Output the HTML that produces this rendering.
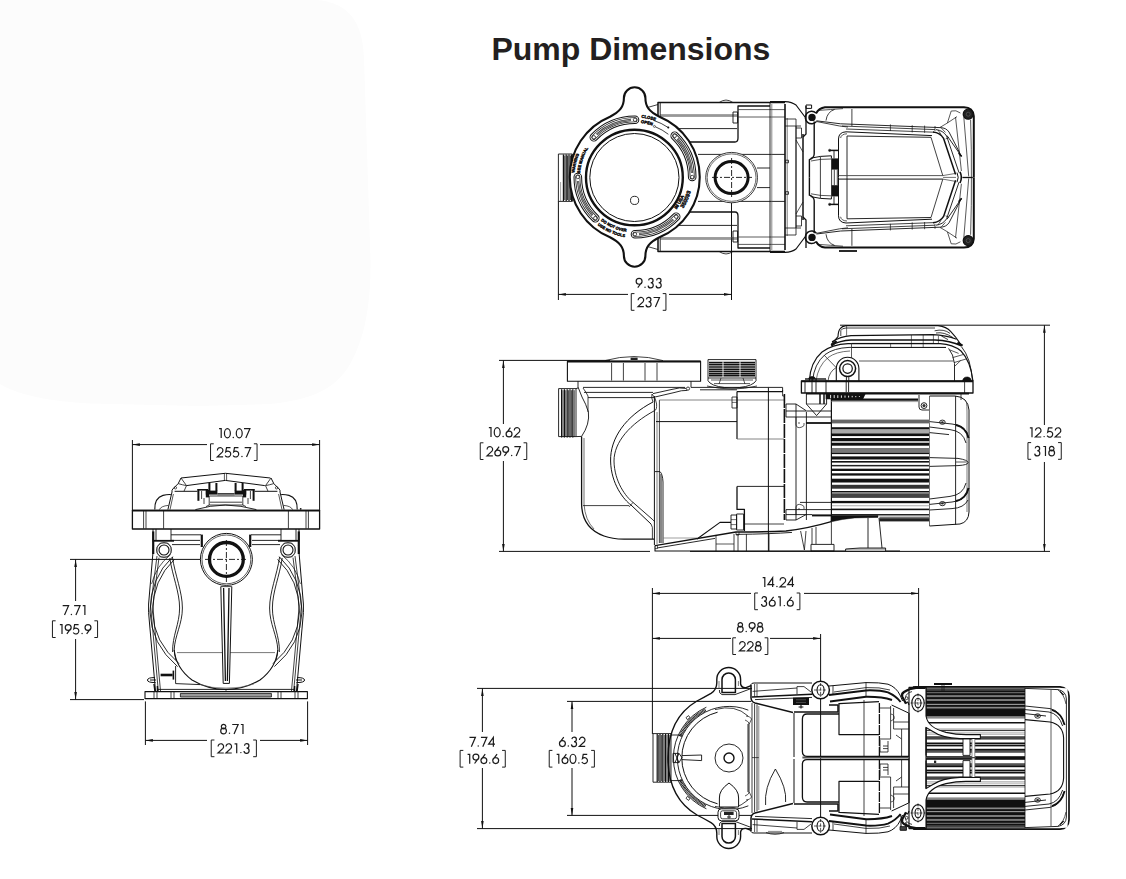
<!DOCTYPE html>
<html><head><meta charset="utf-8"><title>Pump Dimensions</title>
<style>
html,body{margin:0;padding:0;background:#fff;}
body{width:1126px;height:879px;overflow:hidden;position:relative;font-family:"Liberation Sans",sans-serif;}
#title{position:absolute;left:491.5px;top:30.5px;font-size:32px;font-weight:bold;color:#231f20;letter-spacing:-0.03px;line-height:37px;white-space:nowrap;}
svg{position:absolute;left:0;top:0;}
</style></head><body>
<svg width="1126" height="879" viewBox="0 0 1126 879">

<path d="M0 0 H316 C350 2 363 24 364 58 L370.5 260 C371 300 366 338 349 366 C334 390 310 400 270 404 L199 406 L90 403.6 C50 401 20 396 0 384 Z" fill="#fcfcfc"/>
<g id="dims">
<line x1="558.4" y1="201" x2="558.4" y2="300" stroke="#111" stroke-width="1.0" />
<line x1="731.5" y1="190" x2="731.5" y2="300" stroke="#111" stroke-width="1.0" />
<line x1="558.4" y1="294.4" x2="628" y2="294.4" stroke="#111" stroke-width="1.0" />
<line x1="669" y1="294.4" x2="731.5" y2="294.4" stroke="#111" stroke-width="1.0" />
<polygon fill="#111" points="558.4,294.4 565.9,293.1 565.9,295.7"/>
<polygon fill="#111" points="731.5,294.4 724.0,293.1 724.0,295.7"/>
<g fill="none" stroke="#1c1c1c" stroke-width="1.25" stroke-linecap="butt" stroke-linejoin="miter"><g transform="translate(635.71 278.20) scale(0.97)"><path d="M2.1 9.8 L5.9 4.7 M6.55 3.2 A3.05 3.05 0 1 1 0.45 3.2 A3.05 3.05 0 1 1 6.55 3.2"/></g><g transform="translate(643.76 278.20) scale(0.97)"><circle cx="1.3" cy="9.3" r="0.75" fill="#222" stroke="none"/></g><g transform="translate(647.54 278.20) scale(0.97)"><path d="M1.1 2.2 A2.3 2.3 0 1 1 3.3 4.7 A2.65 2.65 0 1 1 0.6 7.6"/></g><g transform="translate(655.50 278.20) scale(0.97)"><path d="M1.1 2.2 A2.3 2.3 0 1 1 3.3 4.7 A2.65 2.65 0 1 1 0.6 7.6"/></g></g>
<g fill="none" stroke="#1c1c1c" stroke-width="1.25" stroke-linecap="butt" stroke-linejoin="miter"><g transform="translate(637.45 297.20) scale(0.97)"><path d="M0.7 3.1 A2.85 2.85 0 1 1 5.7 4.9 L0.6 9.7 H6.6"/></g><g transform="translate(645.40 297.20) scale(0.97)"><path d="M1.1 2.2 A2.3 2.3 0 1 1 3.3 4.7 A2.65 2.65 0 1 1 0.6 7.6"/></g><g transform="translate(653.16 297.20) scale(0.97)"><path d="M0.4 0.3 H6.5 L2.3 10"/></g><path d="M634.46 293.60 H631.26 V310.30 H634.46" stroke-width="1"/><path d="M662.74 293.60 H665.94 V310.30 H662.74" stroke-width="1"/></g>
<line x1="499" y1="360.4" x2="610" y2="360.4" stroke="#111" stroke-width="1.0" />
<line x1="499" y1="551.4" x2="650" y2="551.4" stroke="#111" stroke-width="1.0" />
<line x1="503.4" y1="360.4" x2="503.4" y2="424" stroke="#111" stroke-width="1.0" />
<line x1="503.4" y1="461" x2="503.4" y2="551.4" stroke="#111" stroke-width="1.0" />
<polygon fill="#111" points="503.4,360.4 502.1,367.9 504.7,367.9"/>
<polygon fill="#111" points="503.4,551.4 502.1,543.9 504.7,543.9"/>
<g fill="none" stroke="#1c1c1c" stroke-width="1.25" stroke-linecap="butt" stroke-linejoin="miter"><g transform="translate(487.90 427.40) scale(0.97)"><path d="M1.0 0.3 H3.2 V10"/></g><g transform="translate(493.81 427.40) scale(0.97)"><ellipse cx="3.5" cy="5" rx="3.05" ry="4.75"/></g><g transform="translate(501.87 427.40) scale(0.97)"><circle cx="1.3" cy="9.3" r="0.75" fill="#222" stroke="none"/></g><g transform="translate(505.65 427.40) scale(0.97)"><path d="M4.9 0.2 L1.1 5.3 M6.55 6.8 A3.05 3.05 0 1 1 0.45 6.8 A3.05 3.05 0 1 1 6.55 6.8"/></g><g transform="translate(513.60 427.40) scale(0.97)"><path d="M0.7 3.1 A2.85 2.85 0 1 1 5.7 4.9 L0.6 9.7 H6.6"/></g></g>
<g fill="none" stroke="#1c1c1c" stroke-width="1.25" stroke-linecap="butt" stroke-linejoin="miter"><g transform="translate(486.43 446.40) scale(0.97)"><path d="M0.7 3.1 A2.85 2.85 0 1 1 5.7 4.9 L0.6 9.7 H6.6"/></g><g transform="translate(494.38 446.40) scale(0.97)"><path d="M4.9 0.2 L1.1 5.3 M6.55 6.8 A3.05 3.05 0 1 1 0.45 6.8 A3.05 3.05 0 1 1 6.55 6.8"/></g><g transform="translate(502.34 446.40) scale(0.97)"><path d="M2.1 9.8 L5.9 4.7 M6.55 3.2 A3.05 3.05 0 1 1 0.45 3.2 A3.05 3.05 0 1 1 6.55 3.2"/></g><g transform="translate(510.39 446.40) scale(0.97)"><circle cx="1.3" cy="9.3" r="0.75" fill="#222" stroke="none"/></g><g transform="translate(513.98 446.40) scale(0.97)"><path d="M0.4 0.3 H6.5 L2.3 10"/></g><path d="M483.45 442.80 H480.25 V459.50 H483.45" stroke-width="1"/><path d="M523.55 442.80 H526.75 V459.50 H523.55" stroke-width="1"/></g>
<line x1="840" y1="325.2" x2="1050" y2="325.2" stroke="#111" stroke-width="1.0" />
<line x1="690" y1="551.4" x2="1050" y2="551.4" stroke="#111" stroke-width="1.0" />
<line x1="1044.4" y1="325.2" x2="1044.4" y2="425" stroke="#111" stroke-width="1.0" />
<line x1="1044.4" y1="462" x2="1044.4" y2="551.4" stroke="#111" stroke-width="1.0" />
<polygon fill="#111" points="1044.4,325.2 1043.1,332.7 1045.7,332.7"/>
<polygon fill="#111" points="1044.4,551.4 1043.1,543.9 1045.7,543.9"/>
<g fill="none" stroke="#1c1c1c" stroke-width="1.25" stroke-linecap="butt" stroke-linejoin="miter"><g transform="translate(1028.90 427.60) scale(0.97)"><path d="M1.0 0.3 H3.2 V10"/></g><g transform="translate(1034.82 427.60) scale(0.97)"><path d="M0.7 3.1 A2.85 2.85 0 1 1 5.7 4.9 L0.6 9.7 H6.6"/></g><g transform="translate(1042.87 427.60) scale(0.97)"><circle cx="1.3" cy="9.3" r="0.75" fill="#222" stroke="none"/></g><g transform="translate(1046.65 427.60) scale(0.97)"><path d="M6 0.3 H1.9 L1.1 4.6 A3.05 3.05 0 1 1 0.5 8.3"/></g><g transform="translate(1054.60 427.60) scale(0.97)"><path d="M0.7 3.1 A2.85 2.85 0 1 1 5.7 4.9 L0.6 9.7 H6.6"/></g></g>
<g fill="none" stroke="#1c1c1c" stroke-width="1.25" stroke-linecap="butt" stroke-linejoin="miter"><g transform="translate(1034.12 446.20) scale(0.97)"><path d="M1.1 2.2 A2.3 2.3 0 1 1 3.3 4.7 A2.65 2.65 0 1 1 0.6 7.6"/></g><g transform="translate(1042.37 446.20) scale(0.97)"><path d="M1.0 0.3 H3.2 V10"/></g><g transform="translate(1048.29 446.20) scale(0.97)"><path d="M5.8 2.5 A2.3 2.3 0 1 1 1.2 2.5 A2.3 2.3 0 1 1 5.8 2.5 M6.45 7.1 A2.95 2.95 0 1 1 0.55 7.1 A2.95 2.95 0 1 1 6.45 7.1"/></g><path d="M1031.14 442.60 H1027.94 V459.30 H1031.14" stroke-width="1"/><path d="M1058.06 442.60 H1061.26 V459.30 H1058.06" stroke-width="1"/></g>
<line x1="132.4" y1="440" x2="132.4" y2="511" stroke="#111" stroke-width="1.0" />
<line x1="319.6" y1="440" x2="319.6" y2="511" stroke="#111" stroke-width="1.0" />
<line x1="132.4" y1="444.6" x2="207" y2="444.6" stroke="#111" stroke-width="1.0" />
<line x1="260" y1="444.6" x2="319.6" y2="444.6" stroke="#111" stroke-width="1.0" />
<polygon fill="#111" points="132.4,444.6 139.9,443.3 139.9,445.9"/>
<polygon fill="#111" points="319.6,444.6 312.1,443.3 312.1,445.9"/>
<g fill="none" stroke="#1c1c1c" stroke-width="1.25" stroke-linecap="butt" stroke-linejoin="miter"><g transform="translate(218.09 428.40) scale(0.97)"><path d="M1.0 0.3 H3.2 V10"/></g><g transform="translate(224.01 428.40) scale(0.97)"><ellipse cx="3.5" cy="5" rx="3.05" ry="4.75"/></g><g transform="translate(232.06 428.40) scale(0.97)"><circle cx="1.3" cy="9.3" r="0.75" fill="#222" stroke="none"/></g><g transform="translate(235.84 428.40) scale(0.97)"><ellipse cx="3.5" cy="5" rx="3.05" ry="4.75"/></g><g transform="translate(243.60 428.40) scale(0.97)"><path d="M0.4 0.3 H6.5 L2.3 10"/></g></g>
<g fill="none" stroke="#1c1c1c" stroke-width="1.25" stroke-linecap="butt" stroke-linejoin="miter"><g transform="translate(216.73 447.40) scale(0.97)"><path d="M0.7 3.1 A2.85 2.85 0 1 1 5.7 4.9 L0.6 9.7 H6.6"/></g><g transform="translate(224.68 447.40) scale(0.97)"><path d="M6 0.3 H1.9 L1.1 4.6 A3.05 3.05 0 1 1 0.5 8.3"/></g><g transform="translate(232.64 447.40) scale(0.97)"><path d="M6 0.3 H1.9 L1.1 4.6 A3.05 3.05 0 1 1 0.5 8.3"/></g><g transform="translate(240.69 447.40) scale(0.97)"><circle cx="1.3" cy="9.3" r="0.75" fill="#222" stroke="none"/></g><g transform="translate(244.28 447.40) scale(0.97)"><path d="M0.4 0.3 H6.5 L2.3 10"/></g><path d="M213.75 443.80 H210.55 V460.50 H213.75" stroke-width="1"/><path d="M253.85 443.80 H257.05 V460.50 H253.85" stroke-width="1"/></g>
<line x1="145.4" y1="701.4" x2="145.4" y2="745" stroke="#111" stroke-width="1.0" />
<line x1="307.6" y1="701.4" x2="307.6" y2="745" stroke="#111" stroke-width="1.0" />
<line x1="145.4" y1="740.4" x2="207" y2="740.4" stroke="#111" stroke-width="1.0" />
<line x1="260" y1="740.4" x2="307.6" y2="740.4" stroke="#111" stroke-width="1.0" />
<polygon fill="#111" points="145.4,740.4 152.9,739.1 152.9,741.7"/>
<polygon fill="#111" points="307.6,740.4 300.1,739.1 300.1,741.7"/>
<g fill="none" stroke="#1c1c1c" stroke-width="1.25" stroke-linecap="butt" stroke-linejoin="miter"><g transform="translate(220.18 724.20) scale(0.97)"><path d="M5.8 2.5 A2.3 2.3 0 1 1 1.2 2.5 A2.3 2.3 0 1 1 5.8 2.5 M6.45 7.1 A2.95 2.95 0 1 1 0.55 7.1 A2.95 2.95 0 1 1 6.45 7.1"/></g><g transform="translate(228.23 724.20) scale(0.97)"><circle cx="1.3" cy="9.3" r="0.75" fill="#222" stroke="none"/></g><g transform="translate(231.82 724.20) scale(0.97)"><path d="M0.4 0.3 H6.5 L2.3 10"/></g><g transform="translate(239.87 724.20) scale(0.97)"><path d="M1.0 0.3 H3.2 V10"/></g></g>
<g fill="none" stroke="#1c1c1c" stroke-width="1.25" stroke-linecap="butt" stroke-linejoin="miter"><g transform="translate(217.41 743.60) scale(0.97)"><path d="M0.7 3.1 A2.85 2.85 0 1 1 5.7 4.9 L0.6 9.7 H6.6"/></g><g transform="translate(225.36 743.60) scale(0.97)"><path d="M0.7 3.1 A2.85 2.85 0 1 1 5.7 4.9 L0.6 9.7 H6.6"/></g><g transform="translate(233.61 743.60) scale(0.97)"><path d="M1.0 0.3 H3.2 V10"/></g><g transform="translate(239.62 743.60) scale(0.97)"><circle cx="1.3" cy="9.3" r="0.75" fill="#222" stroke="none"/></g><g transform="translate(243.40 743.60) scale(0.97)"><path d="M1.1 2.2 A2.3 2.3 0 1 1 3.3 4.7 A2.65 2.65 0 1 1 0.6 7.6"/></g><path d="M214.43 740.00 H211.23 V756.70 H214.43" stroke-width="1"/><path d="M253.18 740.00 H256.38 V756.70 H253.18" stroke-width="1"/></g>
<line x1="70" y1="559.4" x2="205" y2="559.4" stroke="#111" stroke-width="1.0" />
<line x1="70" y1="699.6" x2="144" y2="699.6" stroke="#111" stroke-width="1.0" />
<line x1="75.6" y1="559.4" x2="75.6" y2="601" stroke="#111" stroke-width="1.0" />
<line x1="75.6" y1="639" x2="75.6" y2="699.6" stroke="#111" stroke-width="1.0" />
<polygon fill="#111" points="75.6,559.4 74.3,566.9 76.9,566.9"/>
<polygon fill="#111" points="75.6,699.6 74.3,692.1 76.9,692.1"/>
<g fill="none" stroke="#1c1c1c" stroke-width="1.25" stroke-linecap="butt" stroke-linejoin="miter"><g transform="translate(62.28 605.40) scale(0.97)"><path d="M0.4 0.3 H6.5 L2.3 10"/></g><g transform="translate(70.14 605.40) scale(0.97)"><circle cx="1.3" cy="9.3" r="0.75" fill="#222" stroke="none"/></g><g transform="translate(73.72 605.40) scale(0.97)"><path d="M0.4 0.3 H6.5 L2.3 10"/></g><g transform="translate(81.78 605.40) scale(0.97)"><path d="M1.0 0.3 H3.2 V10"/></g></g>
<g fill="none" stroke="#1c1c1c" stroke-width="1.25" stroke-linecap="butt" stroke-linejoin="miter"><g transform="translate(58.90 624.40) scale(0.97)"><path d="M1.0 0.3 H3.2 V10"/></g><g transform="translate(64.81 624.40) scale(0.97)"><path d="M2.1 9.8 L5.9 4.7 M6.55 3.2 A3.05 3.05 0 1 1 0.45 3.2 A3.05 3.05 0 1 1 6.55 3.2"/></g><g transform="translate(72.77 624.40) scale(0.97)"><path d="M6 0.3 H1.9 L1.1 4.6 A3.05 3.05 0 1 1 0.5 8.3"/></g><g transform="translate(80.82 624.40) scale(0.97)"><circle cx="1.3" cy="9.3" r="0.75" fill="#222" stroke="none"/></g><g transform="translate(84.60 624.40) scale(0.97)"><path d="M2.1 9.8 L5.9 4.7 M6.55 3.2 A3.05 3.05 0 1 1 0.45 3.2 A3.05 3.05 0 1 1 6.55 3.2"/></g><path d="M55.63 620.80 H52.43 V637.50 H55.63" stroke-width="1"/><path d="M94.37 620.80 H97.57 V637.50 H94.37" stroke-width="1"/></g>
<line x1="652.4" y1="588" x2="652.4" y2="734" stroke="#111" stroke-width="1.0" />
<line x1="918.6" y1="588" x2="918.6" y2="694" stroke="#111" stroke-width="1.0" />
<line x1="652.4" y1="593.4" x2="751" y2="593.4" stroke="#111" stroke-width="1.0" />
<line x1="804" y1="593.4" x2="918.6" y2="593.4" stroke="#111" stroke-width="1.0" />
<polygon fill="#111" points="652.4,593.4 659.9,592.1 659.9,594.7"/>
<polygon fill="#111" points="918.6,593.4 911.1,592.1 911.1,594.7"/>
<g fill="none" stroke="#1c1c1c" stroke-width="1.25" stroke-linecap="butt" stroke-linejoin="miter"><g transform="translate(761.70 577.40) scale(0.97)"><path d="M1.0 0.3 H3.2 V10"/></g><g transform="translate(767.61 577.40) scale(0.97)"><path d="M5.2 10 V0.4 L0.3 7.4 H6.9"/></g><g transform="translate(775.67 577.40) scale(0.97)"><circle cx="1.3" cy="9.3" r="0.75" fill="#222" stroke="none"/></g><g transform="translate(779.45 577.40) scale(0.97)"><path d="M0.7 3.1 A2.85 2.85 0 1 1 5.7 4.9 L0.6 9.7 H6.6"/></g><g transform="translate(787.40 577.40) scale(0.97)"><path d="M5.2 10 V0.4 L0.3 7.4 H6.9"/></g></g>
<g fill="none" stroke="#1c1c1c" stroke-width="1.25" stroke-linecap="butt" stroke-linejoin="miter"><g transform="translate(760.91 596.60) scale(0.97)"><path d="M1.1 2.2 A2.3 2.3 0 1 1 3.3 4.7 A2.65 2.65 0 1 1 0.6 7.6"/></g><g transform="translate(768.86 596.60) scale(0.97)"><path d="M4.9 0.2 L1.1 5.3 M6.55 6.8 A3.05 3.05 0 1 1 0.45 6.8 A3.05 3.05 0 1 1 6.55 6.8"/></g><g transform="translate(777.11 596.60) scale(0.97)"><path d="M1.0 0.3 H3.2 V10"/></g><g transform="translate(783.12 596.60) scale(0.97)"><circle cx="1.3" cy="9.3" r="0.75" fill="#222" stroke="none"/></g><g transform="translate(786.90 596.60) scale(0.97)"><path d="M4.9 0.2 L1.1 5.3 M6.55 6.8 A3.05 3.05 0 1 1 0.45 6.8 A3.05 3.05 0 1 1 6.55 6.8"/></g><path d="M757.92 593.00 H754.72 V609.70 H757.92" stroke-width="1"/><path d="M796.67 593.00 H799.88 V609.70 H796.67" stroke-width="1"/></g>
<line x1="820.6" y1="634" x2="820.6" y2="828" stroke="#111" stroke-width="1.0" />
<line x1="652.4" y1="638.4" x2="731" y2="638.4" stroke="#111" stroke-width="1.0" />
<line x1="770" y1="638.4" x2="820.6" y2="638.4" stroke="#111" stroke-width="1.0" />
<polygon fill="#111" points="652.4,638.4 659.9,637.1 659.9,639.7"/>
<polygon fill="#111" points="820.6,638.4 813.1,637.1 813.1,639.7"/>
<g fill="none" stroke="#1c1c1c" stroke-width="1.25" stroke-linecap="butt" stroke-linejoin="miter"><g transform="translate(736.91 622.40) scale(0.97)"><path d="M5.8 2.5 A2.3 2.3 0 1 1 1.2 2.5 A2.3 2.3 0 1 1 5.8 2.5 M6.45 7.1 A2.95 2.95 0 1 1 0.55 7.1 A2.95 2.95 0 1 1 6.45 7.1"/></g><g transform="translate(744.96 622.40) scale(0.97)"><circle cx="1.3" cy="9.3" r="0.75" fill="#222" stroke="none"/></g><g transform="translate(748.75 622.40) scale(0.97)"><path d="M2.1 9.8 L5.9 4.7 M6.55 3.2 A3.05 3.05 0 1 1 0.45 3.2 A3.05 3.05 0 1 1 6.55 3.2"/></g><g transform="translate(756.70 622.40) scale(0.97)"><path d="M5.8 2.5 A2.3 2.3 0 1 1 1.2 2.5 A2.3 2.3 0 1 1 5.8 2.5 M6.45 7.1 A2.95 2.95 0 1 1 0.55 7.1 A2.95 2.95 0 1 1 6.45 7.1"/></g></g>
<g fill="none" stroke="#1c1c1c" stroke-width="1.25" stroke-linecap="butt" stroke-linejoin="miter"><g transform="translate(738.95 641.40) scale(0.97)"><path d="M0.7 3.1 A2.85 2.85 0 1 1 5.7 4.9 L0.6 9.7 H6.6"/></g><g transform="translate(746.90 641.40) scale(0.97)"><path d="M0.7 3.1 A2.85 2.85 0 1 1 5.7 4.9 L0.6 9.7 H6.6"/></g><g transform="translate(754.86 641.40) scale(0.97)"><path d="M5.8 2.5 A2.3 2.3 0 1 1 1.2 2.5 A2.3 2.3 0 1 1 5.8 2.5 M6.45 7.1 A2.95 2.95 0 1 1 0.55 7.1 A2.95 2.95 0 1 1 6.45 7.1"/></g><path d="M735.97 637.80 H732.77 V654.50 H735.97" stroke-width="1"/><path d="M764.63 637.80 H767.83 V654.50 H764.63" stroke-width="1"/></g>
<line x1="477" y1="688.4" x2="752" y2="688.4" stroke="#111" stroke-width="1.0" />
<line x1="477" y1="828.6" x2="752" y2="828.6" stroke="#111" stroke-width="1.0" />
<line x1="482.4" y1="688.4" x2="482.4" y2="732" stroke="#111" stroke-width="1.0" />
<line x1="482.4" y1="768" x2="482.4" y2="828.6" stroke="#111" stroke-width="1.0" />
<polygon fill="#111" points="482.4,688.4 481.1,695.9 483.7,695.9"/>
<polygon fill="#111" points="482.4,828.6 481.1,821.1 483.7,821.1"/>
<g fill="none" stroke="#1c1c1c" stroke-width="1.25" stroke-linecap="butt" stroke-linejoin="miter"><g transform="translate(469.10 737.00) scale(0.97)"><path d="M0.4 0.3 H6.5 L2.3 10"/></g><g transform="translate(476.96 737.00) scale(0.97)"><circle cx="1.3" cy="9.3" r="0.75" fill="#222" stroke="none"/></g><g transform="translate(480.55 737.00) scale(0.97)"><path d="M0.4 0.3 H6.5 L2.3 10"/></g><g transform="translate(488.31 737.00) scale(0.97)"><path d="M5.2 10 V0.4 L0.3 7.4 H6.9"/></g></g>
<g fill="none" stroke="#1c1c1c" stroke-width="1.25" stroke-linecap="butt" stroke-linejoin="miter"><g transform="translate(466.60 754.00) scale(0.97)"><path d="M1.0 0.3 H3.2 V10"/></g><g transform="translate(472.51 754.00) scale(0.97)"><path d="M2.1 9.8 L5.9 4.7 M6.55 3.2 A3.05 3.05 0 1 1 0.45 3.2 A3.05 3.05 0 1 1 6.55 3.2"/></g><g transform="translate(480.47 754.00) scale(0.97)"><path d="M4.9 0.2 L1.1 5.3 M6.55 6.8 A3.05 3.05 0 1 1 0.45 6.8 A3.05 3.05 0 1 1 6.55 6.8"/></g><g transform="translate(488.52 754.00) scale(0.97)"><circle cx="1.3" cy="9.3" r="0.75" fill="#222" stroke="none"/></g><g transform="translate(492.30 754.00) scale(0.97)"><path d="M4.9 0.2 L1.1 5.3 M6.55 6.8 A3.05 3.05 0 1 1 0.45 6.8 A3.05 3.05 0 1 1 6.55 6.8"/></g><path d="M463.32 750.40 H460.12 V767.10 H463.32" stroke-width="1"/><path d="M502.08 750.40 H505.28 V767.10 H502.08" stroke-width="1"/></g>
<line x1="567" y1="701.4" x2="751" y2="701.4" stroke="#111" stroke-width="1.0" />
<line x1="567" y1="815.4" x2="751" y2="815.4" stroke="#111" stroke-width="1.0" />
<line x1="572" y1="701.4" x2="572" y2="732" stroke="#111" stroke-width="1.0" />
<line x1="572" y1="768" x2="572" y2="815.4" stroke="#111" stroke-width="1.0" />
<polygon fill="#111" points="572.0,701.4 570.7,708.9 573.3,708.9"/>
<polygon fill="#111" points="572.0,815.4 570.7,807.9 573.3,807.9"/>
<g fill="none" stroke="#1c1c1c" stroke-width="1.25" stroke-linecap="butt" stroke-linejoin="miter"><g transform="translate(559.01 737.00) scale(0.97)"><path d="M4.9 0.2 L1.1 5.3 M6.55 6.8 A3.05 3.05 0 1 1 0.45 6.8 A3.05 3.05 0 1 1 6.55 6.8"/></g><g transform="translate(567.06 737.00) scale(0.97)"><circle cx="1.3" cy="9.3" r="0.75" fill="#222" stroke="none"/></g><g transform="translate(570.84 737.00) scale(0.97)"><path d="M1.1 2.2 A2.3 2.3 0 1 1 3.3 4.7 A2.65 2.65 0 1 1 0.6 7.6"/></g><g transform="translate(578.80 737.00) scale(0.97)"><path d="M0.7 3.1 A2.85 2.85 0 1 1 5.7 4.9 L0.6 9.7 H6.6"/></g></g>
<g fill="none" stroke="#1c1c1c" stroke-width="1.25" stroke-linecap="butt" stroke-linejoin="miter"><g transform="translate(555.70 754.00) scale(0.97)"><path d="M1.0 0.3 H3.2 V10"/></g><g transform="translate(561.61 754.00) scale(0.97)"><path d="M4.9 0.2 L1.1 5.3 M6.55 6.8 A3.05 3.05 0 1 1 0.45 6.8 A3.05 3.05 0 1 1 6.55 6.8"/></g><g transform="translate(569.57 754.00) scale(0.97)"><ellipse cx="3.5" cy="5" rx="3.05" ry="4.75"/></g><g transform="translate(577.62 754.00) scale(0.97)"><circle cx="1.3" cy="9.3" r="0.75" fill="#222" stroke="none"/></g><g transform="translate(581.40 754.00) scale(0.97)"><path d="M6 0.3 H1.9 L1.1 4.6 A3.05 3.05 0 1 1 0.5 8.3"/></g><path d="M552.42 750.40 H549.22 V767.10 H552.42" stroke-width="1"/><path d="M591.17 750.40 H594.38 V767.10 H591.17" stroke-width="1"/></g>
</g>
<g id="topview" fill="none" stroke="#111" stroke-width="1" stroke-linejoin="round">
<g stroke-width="0.9">
<path d="M658 116 V102.6 H785 M658 238 V251.4 H785" stroke-width="1.5"/>
<path d="M660.2 103 V117 M660.2 251 V237" />
<path d="M647.5 107.5 L658 104.5 M647.5 246.5 L658 249.5" stroke-width="0.8"/>
<path d="M660 115 H737" stroke="#333"/>
<path d="M660 239 H737" stroke="#333"/>
<path d="M660 116.3 H737" stroke="#555" stroke-width="0.7"/>
<path d="M660 237.7 H737" stroke="#555" stroke-width="0.7"/>
<path d="M676 128.6 H737"/>
<path d="M676 225.4 H737"/>
<path d="M690 142 H735 Q738 142 738 138 V106 H770" stroke-width="1.3"/>
<path d="M690 212 H735 Q738 212 738 216 V248 H770" stroke-width="1.3"/>
<path d="M738 109.6 H785" stroke="#333" stroke-width="0.8"/>
<path d="M738 117 H785" stroke="#333" stroke-width="0.8"/>
<path d="M738 244.4 H785" stroke="#333" stroke-width="0.8"/>
<path d="M738 237 H785" stroke="#333" stroke-width="0.8"/>
<rect x="733" y="112" width="4.6" height="11"/><rect x="733" y="231" width="4.6" height="11"/>
<path d="M698 154.4 H785"/>
<path d="M698 201.4 H785"/>
<path d="M757 168 H770"/>
<path d="M757 187.6 H770"/>
<path d="M770 102 V252" stroke-width="0.9"/><path d="M771.8 104 V250" stroke="#555" stroke-width="0.7"/>
<path d="M719 102.6 Q726 97.5 733 102.6 M719 251.4 Q726 256.5 733 251.4" stroke-width="0.8"/>
</g>
<g stroke-width="0.9">
<path d="M770 101.6 H785 Q792 102 796 105 L805 117 M770 252.4 H785 Q792 252 796 249 L805 237" stroke-width="1.2"/>
<path d="M785 104 V250" stroke-width="1.6"/>
<path d="M787.2 118 V236" stroke="#444" stroke-width="0.7"/>
<path d="M785 119 H796 V235 H785 M785 126 H801 M785 228 H801 M796 126 V228" stroke-width="0.8"/>
<path d="M796 128 H801.5 V138 H796 M796 216 H801.5 V226 H796" stroke-width="0.8"/>
<path d="M803 134 V220" stroke-width="1.5"/>
<path d="M806 106 V134 L803 137 M806 248 V220 L803 217" stroke-width="1.3"/>
<path d="M796 140 L803 152 M796 214 L803 202" stroke-width="0.7"/>
<rect x="785.5" y="160.2" width="3" height="2.6" stroke-width="0.8"/>
<rect x="785.5" y="191.7" width="3" height="2.6" stroke-width="0.8"/>
<rect x="806" y="105" width="5.6" height="3.4" stroke-width="1"/>
</g>
<ellipse cx="731.6" cy="177.6" rx="25.9" ry="25.2" fill="#fff" stroke="#222" stroke-width="0.9"/>
<ellipse cx="731.6" cy="177.6" rx="24.4" ry="23.7" stroke="#444" stroke-width="0.8"/>
<ellipse cx="731.6" cy="177.6" rx="16.5" ry="16" stroke-width="3"/>
<path d="M712 177.4 H752" stroke-dasharray="6 2 2 2" stroke-width="0.9"/>
<path d="M731.6 158 V197" stroke-dasharray="6 2 2 2" stroke-width="0.9"/>
<rect x="558.4" y="154" width="14" height="47.4" fill="#fff" stroke-width="0.9"/>
<path d="M563.4 154.5 V201" stroke="#111" stroke-width="1.2"/>
<path d="M564.8 155.5 V200" stroke="#111" stroke-width="0.9"/>
<path d="M566.2 154.5 V201" stroke="#111" stroke-width="1.2"/>
<path d="M567.6 155.5 V200" stroke="#111" stroke-width="0.9"/>
<path d="M569 154.5 V201" stroke="#111" stroke-width="1.2"/>
<path d="M570.4 155.5 V200" stroke="#111" stroke-width="0.9"/>
<path d="M571.6 154.5 V201" stroke="#111" stroke-width="1.2"/>
<path d="M560.6 182 V201" stroke="#666" stroke-width="0.6"/>
<path d="M610 116.7 C620 111.5 623.9 106.6 623.9 98 A10.75 10.75 0 1 1 645.4 98 C645.4 106.6 649 111.5 659.5 116.7 A65.3 65.3 0 0 1 659.5 237.3 C649 242.5 645.4 247.4 645.4 256 A10.75 10.75 0 1 1 623.9 256 C623.9 247.4 620 242.5 610 237.3 A65.3 65.3 0 0 1 610 116.7 Z" fill="#fff" stroke-width="2.1"/>
<ellipse cx="634.4" cy="177.5" rx="48.4" ry="47.8" stroke-width="2.4"/>
<ellipse cx="634.4" cy="177.5" rx="44.6" ry="44" stroke-width="1"/>
<circle cx="634.6" cy="200.4" r="4.1" stroke-width="0.9"/>
<path d="M593.85 137.27 A57.2 57.2 0 0 1 635.00 119.80" stroke="#111" stroke-width="8.6" stroke-linecap="round"/>
<path d="M593.85 137.27 A57.2 57.2 0 0 1 635.00 119.80" stroke="#fff" stroke-width="6.6" stroke-linecap="round"/>
<path d="M593.85 137.27 A57.2 57.2 0 0 1 635.00 119.80" stroke="#222" stroke-width="5.0" stroke-linecap="round"/>
<path d="M593.85 137.27 A57.2 57.2 0 0 1 635.00 119.80" stroke="#fff" stroke-width="3.4" stroke-linecap="round"/>
<path d="M596.73 134.49 A57.2 57.2 0 0 1 631.01 119.94" stroke="#333" stroke-width="2.2"/>
<path d="M596.73 134.49 A57.2 57.2 0 0 1 631.01 119.94" stroke="#ddd" stroke-width="0.6"/>
<circle cx="593.85" cy="137.27" r="1.7" fill="#fff" stroke="#222" stroke-width="0.8"/>
<circle cx="635.00" cy="119.80" r="1.7" fill="#fff" stroke="#222" stroke-width="0.8"/>
<path d="M674.73 135.85 A57.2 57.2 0 0 1 692.20 177.00" stroke="#111" stroke-width="8.6" stroke-linecap="round"/>
<path d="M674.73 135.85 A57.2 57.2 0 0 1 692.20 177.00" stroke="#fff" stroke-width="6.6" stroke-linecap="round"/>
<path d="M674.73 135.85 A57.2 57.2 0 0 1 692.20 177.00" stroke="#222" stroke-width="5.0" stroke-linecap="round"/>
<path d="M674.73 135.85 A57.2 57.2 0 0 1 692.20 177.00" stroke="#fff" stroke-width="3.4" stroke-linecap="round"/>
<path d="M677.51 138.73 A57.2 57.2 0 0 1 692.06 173.01" stroke="#333" stroke-width="2.2"/>
<path d="M677.51 138.73 A57.2 57.2 0 0 1 692.06 173.01" stroke="#ddd" stroke-width="0.6"/>
<circle cx="674.73" cy="135.85" r="1.7" fill="#fff" stroke="#222" stroke-width="0.8"/>
<circle cx="692.20" cy="177.00" r="1.7" fill="#fff" stroke="#222" stroke-width="0.8"/>
<path d="M676.15 216.73 A57.2 57.2 0 0 1 635.00 234.20" stroke="#111" stroke-width="8.6" stroke-linecap="round"/>
<path d="M676.15 216.73 A57.2 57.2 0 0 1 635.00 234.20" stroke="#fff" stroke-width="6.6" stroke-linecap="round"/>
<path d="M676.15 216.73 A57.2 57.2 0 0 1 635.00 234.20" stroke="#222" stroke-width="5.0" stroke-linecap="round"/>
<path d="M676.15 216.73 A57.2 57.2 0 0 1 635.00 234.20" stroke="#fff" stroke-width="3.4" stroke-linecap="round"/>
<path d="M673.27 219.51 A57.2 57.2 0 0 1 638.99 234.06" stroke="#333" stroke-width="2.2"/>
<path d="M673.27 219.51 A57.2 57.2 0 0 1 638.99 234.06" stroke="#ddd" stroke-width="0.6"/>
<circle cx="676.15" cy="216.73" r="1.7" fill="#fff" stroke="#222" stroke-width="0.8"/>
<circle cx="635.00" cy="234.20" r="1.7" fill="#fff" stroke="#222" stroke-width="0.8"/>
<path d="M595.27 218.15 A57.2 57.2 0 0 1 577.80 177.00" stroke="#111" stroke-width="8.6" stroke-linecap="round"/>
<path d="M595.27 218.15 A57.2 57.2 0 0 1 577.80 177.00" stroke="#fff" stroke-width="6.6" stroke-linecap="round"/>
<path d="M595.27 218.15 A57.2 57.2 0 0 1 577.80 177.00" stroke="#222" stroke-width="5.0" stroke-linecap="round"/>
<path d="M595.27 218.15 A57.2 57.2 0 0 1 577.80 177.00" stroke="#fff" stroke-width="3.4" stroke-linecap="round"/>
<path d="M592.49 215.27 A57.2 57.2 0 0 1 577.94 180.99" stroke="#333" stroke-width="2.2"/>
<path d="M592.49 215.27 A57.2 57.2 0 0 1 577.94 180.99" stroke="#ddd" stroke-width="0.6"/>
<circle cx="595.27" cy="218.15" r="1.7" fill="#fff" stroke="#222" stroke-width="0.8"/>
<circle cx="577.80" cy="177.00" r="1.7" fill="#fff" stroke="#222" stroke-width="0.8"/>
<defs>
<path id="tp1" d="M641.23 117.73 A59.6 59.6 0 0 1 680.66 138.69"/><path id="tp2" d="M640.67 123.10 A54.2 54.2 0 0 1 676.52 142.16"/>
<path id="tp3" d="M600.83 220.73 A55.5 55.5 0 0 0 631.13 232.36"/><path id="tp4" d="M597.44 225.07 A61 61 0 0 0 630.74 237.85"/>
<path id="tp5" d="M676.45 209.38 A52.6 52.6 0 0 0 687.09 184.32"/><path id="tp6" d="M683.31 208.37 A57.6 57.6 0 0 0 692.28 183.02"/>
<path id="tp7" d="M580.13 173.16 A55 55 0 0 1 592.87 141.65"/><path id="tp8" d="M574.65 172.78 A60.5 60.5 0 0 1 588.65 138.11"/>
</defs>
<g fill="#111" stroke="#111" stroke-width="0.45" font-family="Liberation Sans, sans-serif" font-weight="bold" font-size="4.2">
<text><textPath href="#tp1">CLOSE</textPath></text><text><textPath href="#tp2">OPEN</textPath></text>
<text font-size="4"><textPath href="#tp3">DO NOT OVER</textPath></text><text font-size="4"><textPath href="#tp4">USE NO TOOLS</textPath></text>
<text font-size="4.6"><textPath href="#tp5">IN USA</textPath></text><text font-size="5.6"><textPath href="#tp6">350093</textPath></text>
<text font-size="4"><textPath href="#tp7">SEE MANUAL</textPath></text><text font-size="4"><textPath href="#tp8">WARNING</textPath></text>
</g>
<path d="M653.42 120.32 A59.6 59.6 0 0 1 668.33 127.59" stroke-width="0.8"/><path d="M655.30 126.75 A54.2 54.2 0 0 1 668.37 134.29" stroke-width="0.8"/>
<circle cx="668.3" cy="127.6" r="1" fill="#111" stroke="none"/>
<circle cx="654.4" cy="126.4" r="1" stroke-width="0.6"/>
</g>
<g id="topdrive" fill="none" stroke="#111" stroke-width="0.9" stroke-linejoin="round">
<path d="M816 113.4 Q819 108 825 107.2 H964 Q973 107.4 973.8 116 V177.4" stroke-width="2"/>
<path d="M 816 241.40 Q 819 246.80 825 247.60 H 964 Q 973 247.40 973.8 238.80 V 177.40" stroke-width="2"/>
<path d="M818.6 110.4 Q830 109.6 843 108.6" stroke-width="0.7"/>
<path d="M 818.6 244.40 Q 830 245.20 843 246.20" stroke-width="0.7"/>
<path d="M826 120.6 Q827 112 834.6 109.4" stroke-width="0.8"/>
<path d="M 826 234.20 Q 827 242.80 834.6 245.40" stroke-width="0.8"/>
<path d="M814.2 121.6 V154 Q814 158 809.4 159.6 V177.4" stroke-width="1.4"/>
<path d="M 814.2 233.20 V 200.80 Q 814 196.80 809.4 195.20 V 177.40" stroke-width="1.4"/>
<path d="M816.6 121.4 A6.3 6.3 0 1 1 816 113" stroke-width="1.5"/>
<path d="M 816.6 233.40 A 6.3 6.3 0 1 0 816 241.80" stroke-width="1.5"/>
<circle cx="812" cy="117.4" r="3.7" fill="#111" stroke="none"/>
<circle cx="812" cy="237.4" r="3.7" fill="#111" stroke="none"/>
<circle cx="968.2" cy="114.2" r="5" fill="#222" stroke="#111" stroke-width="1.2"/><circle cx="968.2" cy="114.2" r="2" fill="none" stroke="#666" stroke-width="0.6"/>
<circle cx="968.2" cy="240.6" r="5" fill="#222" stroke="#111" stroke-width="1.2"/><circle cx="968.2" cy="240.6" r="2" fill="none" stroke="#666" stroke-width="0.6"/>
<path d="M816.4 120.8 L840.6 123.8 L940 127.6" stroke-width="0.9"/>
<path d="M 816.4 234.00 L 840.6 231.00 L 940 227.20" stroke-width="0.9"/>
<path d="M817 121.6 L839.6 126 L848 127" stroke-width="0.8"/>
<path d="M 817 233.20 L 839.6 228.80 L 848 227.80" stroke-width="0.8"/>
<path d="M851.9 109 V126" stroke-width="0.8"/>
<path d="M 851.9 245.80 V 228.80" stroke-width="0.8"/>
<path d="M838.5 177.4 V139 Q838.6 132.2 846 131.8 L932 135.6" stroke-width="1"/>
<path d="M 838.5 177.40 V 215.80 Q 838.6 222.60 846 223.00 L 932 219.20" stroke-width="1"/>
<path d="M840.6 138 Q841.2 134 847 133.8" stroke-width="0.7"/>
<path d="M 840.6 216.80 Q 841.2 220.80 847 221.00" stroke-width="0.7"/>
<path d="M842 126 L935 129.6 M846 129 L934 132.2" stroke-width="0.8"/>
<path d="M 842 228.80 L 935 225.20 M 846 225.80 L 934 222.60" stroke-width="0.8"/>
<path d="M847 177.4 V136 L931 137.3" stroke-width="0.9"/>
<path d="M 847 177.40 V 218.80 L 931 217.50" stroke-width="0.9"/>
<path d="M890.4 124.4 V131 M912.2 125.2 V132.4 M924.6 125.6 V132.8 M935 126 V131" stroke-width="0.7"/>
<path d="M 890.4 230.40 V 223.80 M 912.2 229.60 V 222.40 M 924.6 229.20 V 222.00 M 935 228.80 V 223.80" stroke-width="0.7"/>
<path d="M838.6 175.6 H942.8" stroke="#444" stroke-width="0.9"/><path d="M838.6 179.1 H942.8" stroke-width="1"/>
<path d="M931 137.3 L942.8 175.6" stroke-width="0.8"/>
<path d="M 931 217.50 L 942.8 179.20" stroke-width="0.8"/>
<path d="M933 132 Q940 132.6 943.6 138.4 L955.6 174.6" stroke-width="1.5"/>
<path d="M 933 222.80 Q 940 222.20 943.6 216.40 L 955.6 180.20" stroke-width="1.5"/>
<path d="M936 129.6 Q943 130.4 946.6 136 L959 172.6" stroke-width="0.9"/>
<path d="M 936 225.20 Q 943 224.40 946.6 218.80 L 959 182.20" stroke-width="0.9"/>
<path d="M940 127.6 Q946 127.6 949 132 L961.4 156.2 L947 135.6" stroke-width="0.9"/>
<path d="M 940 227.20 Q 946 227.20 949 222.80 L 961.4 198.60 L 947 219.20" stroke-width="0.9"/>
<path d="M958.6 153 L961.6 156.6" stroke-width="1.6"/>
<path d="M 958.6 201.80 L 961.6 198.20" stroke-width="1.6"/>
<path d="M938 130 L941 134.4 M941.4 128 L945.4 132.4 M945.6 139 L949 137.4" stroke-width="0.7"/>
<path d="M 938 224.80 L 941 220.40 M 941.4 226.80 L 945.4 222.40 M 945.6 215.80 L 949 217.40" stroke-width="0.7"/>
<path d="M960 171.8 Q962.8 177.4 960 183" stroke-width="1.6"/><path d="M957 172.6 Q959.4 177.4 957 182.2" stroke-width="1"/>
<path d="M942.8 175.6 L955.6 173.4 M942.8 179.1 L955.6 181.4 M943 177.4 L956 177.4" stroke-width="0.6"/>
<path d="M962.4 177.5 H972.8" stroke-width="1.3"/>
<path d="M947.4 123 L951.2 111 M947.4 123 L957 116.6 M951.2 111 Q956 109.6 960.4 113 M947.4 123 L940 127.4" stroke-width="0.7"/>
<path d="M 947.4 231.80 L 951.2 243.80 M 947.4 231.80 L 957 238.20 M 951.2 243.80 Q 956 245.20 960.4 241.80 M 947.4 231.80 L 940 227.40" stroke-width="0.7"/>
<path d="M955.5 117 L961.4 171 M963.8 117 L968.7 176.4" stroke-width="0.7"/>
<path d="M 955.5 237.80 L 961.4 183.80 M 963.8 237.80 L 968.7 178.40" stroke-width="0.7"/>
<path d="M970.6 120 Q971.6 150 971.4 177.4" stroke-width="0.7"/>
<path d="M 970.6 234.80 Q 971.6 204.80 971.4 177.40" stroke-width="0.7"/>
<path d="M829 150.4 H838.5" stroke-width="1.5"/>
<path d="M 829 204.40 H 838.5" stroke-width="1.5"/>
<circle cx="829.6" cy="150.4" r="1.1" stroke-width="0.8"/><circle cx="829.6" cy="204.4" r="1.1" stroke-width="0.8"/>
<path d="M834 150.4 V158.4" stroke-width="0.9"/>
<path d="M 834 204.40 V 196.40" stroke-width="0.9"/>
<path d="M810.6 158.2 Q820 155.8 831.4 155.8 V158.4" stroke-width="1"/>
<path d="M 810.6 196.60 Q 820 199.00 831.4 199.00 V 196.40" stroke-width="1"/>
<path d="M811 161 Q820 158.8 831 159" stroke-width="0.7"/>
<path d="M 811 193.80 Q 820 196.00 831 195.80" stroke-width="0.7"/>
<path d="M820.4 156.6 V198.2 M831.6 158.4 V196.4" stroke-width="0.8"/>
<rect x="831.6" y="158.4" width="6.9" height="11.2" fill="#111" stroke="none"/><rect x="831.6" y="185.2" width="6.9" height="11.2" fill="#111" stroke="none"/>
<path d="M834.3 169.6 V185.2 M837.3 169.6 V185.2" stroke-width="0.8"/>
<path d="M839 251 H857" stroke-width="1.8"/>
</g>
<g id="sideview" fill="none" stroke="#111" stroke-width="0.9" stroke-linejoin="round">
<path d="M605 360.6 Q634 352.5 663 360.6" stroke-width="0.8"/>
<rect x="630.6" y="357.6" width="7" height="2.4" fill="#222" stroke="none"/>
<rect x="567.4" y="361.4" width="133.2" height="19.8" fill="#fff" stroke-width="1.1"/>
<path d="M567.4 361.6 H700.6" stroke-width="2"/>
<path d="M611.6 363 V380.6" stroke-width="0.8"/>
<path d="M623.4 363 V380.6" stroke-width="0.8"/>
<path d="M645 363 V380.6" stroke-width="0.8"/>
<path d="M657 363 V380.6" stroke-width="0.8"/>
<path d="M578 381.2 V387.4 M691 381.2 V387.4 M583 387.4 H685" stroke-width="0.9"/>
<path d="M578 387 Q580 392 582 397 Q586 404 588.4 412 Q590 424 581.6 436.4" stroke-width="0.9"/>
<path d="M583 388 Q586 392 588 396 V412" stroke-width="0.8"/>
<path d="M581.6 436.4 V504 Q582 528 604 536 Q612 539 624 539.2 H654" stroke-width="1.3"/>
<path d="M584 438 V504 Q585 520 594 529" stroke="#333" stroke-width="0.7"/>
<path d="M584 392.4 H653 M588 397.6 H654" stroke-width="0.9"/>
<path d="M583 505.6 H629" stroke-width="0.8"/>
<rect x="558.6" y="388.6" width="17.4" height="48" fill="#fff" stroke-width="0.9"/>
<path d="M561.6 389.2 V437.4" stroke="#111" stroke-width="1.2"/>
<path d="M563 390.2 V436.9" stroke="#111" stroke-width="0.8"/>
<path d="M564.4 389.2 V437.4" stroke="#111" stroke-width="1.2"/>
<path d="M565.8 390.2 V436.9" stroke="#111" stroke-width="0.8"/>
<path d="M567.2 389.2 V437.4" stroke="#111" stroke-width="1.2"/>
<path d="M568.6 390.2 V436.9" stroke="#111" stroke-width="0.8"/>
<path d="M570 389.2 V437.4" stroke="#111" stroke-width="1.2"/>
<path d="M571.4 390.2 V436.9" stroke="#111" stroke-width="0.8"/>
<path d="M572.8 389.2 V437.4" stroke="#111" stroke-width="1.2"/>
<path d="M574.2 390.2 V436.9" stroke="#111" stroke-width="0.8"/>
<path d="M576 388.6 L578 388 M576 436.6 L581.6 436.4" stroke-width="0.9"/>
<path d="M653 402 C626 416 610 438 610.6 461 C611 484 624 500 631 505 L651 524" stroke-width="1"/>
<path d="M654.6 410.6 C630 424 614 442 614 461 C614.4 482 626 497 633 502.4 L652 519" stroke-width="0.9"/>
<path d="M629 507 L633 502.4" stroke-width="0.7"/>
<path d="M652 394 Q656 398 656.6 404 Q657 410 654.6 410.6 M653 402 Q651 398 652 394" stroke-width="0.8"/>
<path d="M651 524 Q653 527 652.4 531 V539 M652 519 L655 522" stroke-width="0.8"/>
<path d="M653 393.6 L672 389.4 Q680 387 686 388.4 M655 397 L674 392.6 Q682 390 687.4 390.4" stroke-width="0.9"/>
<circle cx="688" cy="388.6" r="1.6" fill="#fff" stroke-width="0.8"/>
<path d="M654.4 396 V545" stroke-width="1"/><path d="M657 412 V544" stroke="#444" stroke-width="0.7"/><path d="M659.4 400 V543" stroke-width="0.8"/>
<path d="M655 471.6 H660 Q662.6 474 663 482 V543" stroke-width="0.9"/><path d="M661 474 V543" stroke="#555" stroke-width="1.4"/>
<rect x="708" y="359.6" width="48" height="18.4" fill="#fff" stroke-width="0.9"/>
<path d="M709 362.6 H755" stroke="#111" stroke-width="1.6"/>
<path d="M709 364.8 H755" stroke="#111" stroke-width="1.6"/>
<path d="M709 367 H755" stroke="#111" stroke-width="1.6"/>
<path d="M709 369.2 H755" stroke="#111" stroke-width="1.6"/>
<path d="M709 371.4 H755" stroke="#111" stroke-width="1.6"/>
<path d="M709 373.6 H755" stroke="#111" stroke-width="1.6"/>
<path d="M709 375.6 H755" stroke="#111" stroke-width="1.6"/>
<path d="M723 361.5 V377 M740 361.5 V377" stroke="#fff" stroke-width="0.9"/>
<path d="M708 378 Q707 381 710 383 Q716 387.6 732 388 Q748 387.6 754 383 Q757 381 756 378" stroke-width="0.9"/>
<path d="M711 380 H753 M714 383.6 H750 M721 378 L719 384 M743 378 L745 384" stroke-width="0.7"/>
<path d="M707 386 Q732 392 757 386" stroke-width="0.8"/>
<path d="M691 387.4 H768.6 M700 389.8 H737" stroke-width="0.9"/>
<path d="M659.4 400 H784" stroke="#666" stroke-width="0.8"/>
<path d="M656 421.6 H737" stroke-width="1"/>
<path d="M737 391.6 H783 M737 391.6 V439" stroke-width="1.2"/><path d="M737 439 H784" stroke="#666" stroke-width="0.8"/>
<rect x="732" y="397" width="5" height="11" stroke-width="0.8"/><path d="M732 402.4 H737" stroke-width="0.6"/>
<path d="M737 486.4 H784" stroke-width="0.9"/><path d="M737 486.4 V509.4 H744.4 V531" stroke-width="1.3"/>
<path d="M744.4 524 H784" stroke-width="0.8"/>
<rect x="731" y="515" width="5.6" height="14" stroke-width="0.9"/><rect x="736.6" y="514" width="7" height="16" stroke-width="0.9"/><path d="M731 519.6 H736.6 M731 524.6 H736.6" stroke-width="0.6"/>
<path d="M768.4 387.4 V551" stroke-width="1"/>
<path d="M784.4 394 V520" stroke-width="1.6" stroke-dasharray="14 1"/><path d="M782.6 390 V396 H784.4" stroke-width="0.8"/>
<path d="M768.4 387.4 H782.6 V391.6" stroke-width="0.9"/>
<path d="M697 539 L720 522.4 H731" stroke-width="1.1"/><path d="M663 538 H697" stroke="#777" stroke-width="0.7"/>
<path d="M655 545.6 L736 532 Q766 532 786 531 Q808 528.4 831.2 521.6" stroke-width="1.4"/>
<path d="M657 548 L715 538.4 M736 534.4 Q770 534 792 532.4" stroke-width="0.9"/>
<path d="M655 545.6 V551 H900" stroke-width="1.1"/>
<path d="M655 545.6 h2.4 v3 h-2.4" stroke-width="0.7"/>
<path d="M736 532 v3 h3 v-3" stroke-width="0.7"/>
<path d="M716 536 V551" stroke-width="0.8"/>
<path d="M734 534 V551" stroke-width="0.8"/>
<path d="M738 534 V551" stroke-width="0.8"/>
<path d="M746.4 534 V551" stroke-width="0.8"/>
<path d="M769 534 V551" stroke-width="0.8"/>
<path d="M716 544 H734" stroke-width="0.7"/>
<path d="M800.6 531 L804.4 550 L806 531 M812 528 V544 M816 527 V544" stroke-width="0.8"/>
<rect x="811" y="544.4" width="23" height="6.6" stroke-width="0.9"/>
<path d="M831.4 520 V544" stroke-width="0.8"/>
<path d="M796 404 V520 M806.4 412 V520" stroke-width="0.9"/>
<path d="M786 404 H796 L806 410.6 M786 411 H831 M786 417 H831 M786 404 V417" stroke-width="0.9"/>
<path d="M806 423 H831" stroke-width="1.8"/>
<path d="M796 417 V425 Q797 429 802 427 Q805 426 804 423 M798 423 H800" stroke-width="0.7"/>
<path d="M796 515 V507 Q797 503 802 505 Q805 506 804 509 M798 509 H800" stroke-width="0.7"/>
<path d="M800 502.4 H831 M786 509.6 H831 M786 514.6 H812 M786 520 H796 L806 514.6 M786 509.6 V520" stroke-width="0.9"/>
<path d="M812 515.4 H831" stroke-width="2"/>
<rect x="831.4" y="399" width="98.2" height="122" fill="#fff" stroke="none"/>
<path d="M831.4 399 V521 M929.6 396 V526" stroke-width="1.2"/>
<path d="M831.4 399.6 H918" stroke-width="2.2"/><path d="M831.4 401.6 H918" stroke="#888" stroke-width="0.8"/>
<rect x="831.8" y="419.6" width="97.6" height="3.8" fill="#666" stroke="none"/>
<rect x="831.8" y="427.2" width="97.6" height="2.3" fill="#111" stroke="none"/>
<rect x="831.8" y="429.5" width="97.6" height="3.9" fill="#aaa" stroke="none"/>
<rect x="831.8" y="433.4" width="97.6" height="2.7" fill="#111" stroke="none"/>
<rect x="831.8" y="438" width="97.6" height="3.0" fill="#111" stroke="none"/>
<rect x="831.8" y="441" width="97.6" height="2.0" fill="#bbb" stroke="none"/>
<rect x="831.8" y="443" width="97.6" height="2.7" fill="#111" stroke="none"/>
<rect x="831.8" y="448" width="97.6" height="4.6" fill="#777" stroke="none"/>
<rect x="831.8" y="452.6" width="97.6" height="1.5" fill="#111" stroke="none"/>
<rect x="831.8" y="456.4" width="97.6" height="3.1" fill="#111" stroke="none"/>
<rect x="831.8" y="461" width="97.6" height="1.6" fill="#111" stroke="none"/>
<rect x="831.8" y="464.9" width="97.6" height="1.5" fill="#222" stroke="none"/>
<rect x="831.8" y="468.7" width="97.6" height="2.3" fill="#111" stroke="none"/>
<rect x="831.8" y="473.3" width="97.6" height="2.3" fill="#111" stroke="none"/>
<rect x="831.8" y="478.7" width="97.6" height="3.8" fill="#111" stroke="none"/>
<rect x="831.8" y="484.8" width="97.6" height="3.9" fill="#333" stroke="none"/>
<rect x="831.8" y="491" width="97.6" height="1.5" fill="#111" stroke="none"/>
<rect x="831.8" y="493.3" width="97.6" height="4.6" fill="#444" stroke="none"/>
<rect x="831.8" y="500.9" width="97.6" height="2.3" fill="#111" stroke="none"/>
<rect x="831.8" y="505.4" width="97.6" height="0.8" fill="#999" stroke="none"/>
<rect x="831.8" y="508.6" width="97.6" height="1.6" fill="#111" stroke="none"/>
<rect x="831.8" y="514" width="97.6" height="1.5" fill="#222" stroke="none"/>
<rect x="879.4" y="516.6" width="50" height="1.6" fill="#777" stroke="none"/><rect x="879.4" y="518.2" width="50" height="3.2" fill="#222" stroke="none"/>
<path d="M831.2 515.6 H878 V517.4 L854.6 517.9 Q842 519 831.2 521.8 Z" fill="#111" stroke-width="0.5"/>
<path d="M868 518 V548 M879 518 L882 548" stroke-width="0.9"/>
<path d="M845.6 551 V549 L860 548 H885.6 V551" fill="#bbb" stroke-width="0.9"/>
<path d="M929.6 396 H955 Q968 397 969 410 V512 Q968.6 522 960 524 L929.6 526" fill="#fff" stroke-width="1"/>
<path d="M955.6 396 V524.6" stroke-width="0.9"/>
<path d="M966.4 402 Q967 406 967 412 V512" stroke="#444" stroke-width="0.7"/>
<path d="M929.6 421.6 L952 424 Q966 425 969 438 M929.6 427 L950 429.6 Q963 431 966 443 M929.6 432.6 L949 434.6" stroke-width="0.9"/>
<path d="M956 425 Q966 427 968.4 438" stroke-width="1.8"/>
<path d="M929.6 504.4 L952 502 Q966 501 969 488 M929.6 499 L950 496.4 Q963 495 966 483 M929.6 510 L952 508.6 Q964 508 968 500" stroke-width="0.9"/>
<path d="M956 501 Q966 499 968.4 488" stroke-width="1.8"/>
<path d="M929.6 457.6 L958 458.4 Q968 460 968 462.6 Q968 465 958 465.6 L929.6 466.4" stroke-width="0.9"/>
<path d="M956 462 H966" stroke-width="0.7"/>
<ellipse cx="942.4" cy="422.2" rx="2.8" ry="2.1" stroke-width="0.9"/><ellipse cx="942.4" cy="422.2" rx="1.3" ry="1" fill="#222" stroke="none"/>
<ellipse cx="942.4" cy="503.6" rx="2.8" ry="2.1" stroke-width="0.9"/><ellipse cx="942.4" cy="503.6" rx="1.3" ry="1" fill="#222" stroke="none"/>
<path d="M919 395 V407 Q919 410 922 410 H929" stroke-width="0.9"/>
<circle cx="924" cy="405.6" r="2.9" stroke-width="0.9"/><circle cx="924" cy="405.6" r="1.6" fill="#333" stroke="none"/>
<path d="M809.3 381 Q810.4 362 822 352 Q832 344.4 848 343.6 H940 Q953 344.4 961 351 Q970.6 361 973 381" fill="#fff" stroke-width="1.1"/>
<path d="M812.6 381 Q814 364 825 354.6 Q834 348 849 347.4 H946" stroke-width="0.9"/>
<path d="M816 381 Q818 366 828 357.6 Q836 351.6 850 351" stroke="#333" stroke-width="0.7"/>
<path d="M824 355 L836 367.4 M828 381 Q829 371.6 836.4 367.4" stroke-width="0.7"/>
<path d="M831.3 344.4 L838 336.6 Q838.2 331 840.2 328.6 Q842 326 846 325.6 H938 Q946.6 326.8 950.6 331.4 L955.4 336.8 L961.4 345.4" stroke-width="1.1"/>
<path d="M840.8 336 V330.6 Q841.8 328.2 846 328 H935" stroke-width="0.8"/>
<path d="M846.6 326 V335.6" stroke-width="0.6"/>
<path d="M832 341.8 Q840 336.6 851 335.6 L933 334.6 Q946 335.2 956.6 339.2" stroke-width="1.1"/>
<path d="M831.3 345.2 Q840 340.6 851 340 H935 Q950 340.6 961.4 345.8" stroke-width="1.7"/>
<path d="M851.5 343.4 H934 M851.5 347.5 H946" stroke-width="0.8"/>
<path d="M911.4 335 V347.5 M923.2 335 V347.5 M933.4 335 V343.4 M938.4 336 V344 M890.6 343.4 V347.5" stroke-width="0.6"/>
<path d="M934.6 330.8 Q944 328.6 950 333.4 M936 333 Q944 331.6 953 337.6 M941.4 336 L948 339.6" stroke-width="0.8"/>
<path d="M851.5 343.4 V358.6 M859 361 H953.6" stroke="#333" stroke-width="0.8"/>
<path d="M948.6 348.4 Q953.4 354 954.5 363.6 V381 M961.4 346.6 Q966 352 969 361 Q971.4 369 972.6 381" stroke-width="0.9"/>
<path d="M950 350 L958.6 353.4 M952.6 357.6 L963 354.6 M954 362.6 L966 359 M955 366 L960.6 360.6" stroke-width="0.7"/>
<path d="M831.3 345.6 L836.6 341.2" stroke-width="2.4"/><path d="M957.4 342.6 L962.6 345.6" stroke-width="2.2"/>
<path d="M836.3 381 V368.6 A11.3 11.3 0 0 1 858.9 368.6 V381" fill="#fff" stroke-width="1.1"/>
<circle cx="847.6" cy="368.6" r="8" stroke-width="1.5"/><circle cx="847.6" cy="368.6" r="4.7" stroke-width="1.2"/>
<path d="M846.4 376.6 V392 M848.8 376.6 V392" stroke-width="0.9"/>
<rect x="801.4" y="381" width="171.6" height="12" fill="#fff" stroke-width="1.3"/>
<path d="M801.4 381.4 H973" stroke-width="1.8"/><path d="M806 393.6 H969" stroke-width="1.8"/>
<path d="M846.2 381 V392 M848.6 381 V392" stroke-width="0.9"/>
<path d="M805 381 V393 M812 379 V394 M816 379 V394 M826 379.6 V393" stroke-width="0.9"/><path d="M805 379 H826" stroke-width="1.4"/>
<path d="M964.6 381 V393 M961 393 V400" stroke-width="0.8"/>
<path d="M962.6 381 Q963 376.6 968 377 Q971 377.6 971.4 381 Z" fill="#111" stroke-width="0.6"/>
<path d="M808.6 378.8 Q809 376.4 812 376.4 Q815 376.4 815.4 378.8 Z" fill="#111" stroke-width="0.6"/>
<path d="M806.4 394 V404 L816.6 415.6 L826.6 404 V394" stroke-width="0.9"/>
<path d="M820 394 V404 M824 394 V404" stroke-width="1.5"/><path d="M806.4 404 H826.6" stroke-width="0.7"/>
<path d="M825.7 392.9 H866 L863 399.3 H825.7 Z" fill="#111" stroke="none"/>
<path d="M830.6 394.90 V398.30" stroke="#fff" stroke-width="0.9"/>
<path d="M834.2 395.06 V398.14" stroke="#fff" stroke-width="0.9"/>
<path d="M837.8 395.22 V397.98" stroke="#fff" stroke-width="0.9"/>
<path d="M841.4 395.38 V397.82" stroke="#fff" stroke-width="0.9"/>
<path d="M845 395.54 V397.66" stroke="#fff" stroke-width="0.9"/>
<path d="M848.6 395.70 V397.50" stroke="#fff" stroke-width="0.9"/>
<path d="M852.2 395.86 V397.34" stroke="#fff" stroke-width="0.9"/>
<path d="M855.8 396.02 V397.18" stroke="#fff" stroke-width="0.9"/>
<path d="M859.4 396.18 V397.02" stroke="#fff" stroke-width="0.9"/>
</g>
<g id="frontview" fill="none" stroke="#111" stroke-width="0.9" stroke-linejoin="round">
<path d="M181 478 L225.4 473.3 L270.4 478" stroke-width="1"/>
<path d="M186.5 485.6 L225.4 480.4 L264.8 485.6" stroke-width="1"/>
<path d="M224.4 473.4 V480.4 M226.6 473.4 V480.4" stroke-width="0.7"/>
<path d="M181 478 L178.2 483.6 L172.8 489 Q171.6 490.4 172 492 L167.9 509.6" stroke-width="1"/>
<path d="M181 478 L186.5 485.6 L184 491.2 M178.2 483.6 L182.6 484.8 L186.5 485.6" stroke-width="0.8"/>
<circle cx="175.4" cy="487.8" r="1.2" stroke-width="0.7"/>
<path d="M174.6 491.3 H197.5" stroke-width="1"/>
<path d="M173.4 494 L170 509.6" stroke-width="0.7"/>
<path d="M154.8 509.6 Q154.4 498 163 495.4 Q167 494.4 170.8 494.6" stroke-width="1.1"/>
<path d="M159.4 509.6 Q161 506 168.4 505.4" stroke-width="0.7"/>
<path d="M198.4 489 V500.8" stroke-width="2"/>
<path d="M197.5 489.8 H208" stroke-width="1.6"/>
<path d="M207.4 489.8 V497.4" stroke-width="3.2"/>
<path d="M205.8 492.6 H217.4" stroke-width="4"/>
<path d="M209.4 483 V491 M216.4 483 V491" stroke-width="2"/>
<path d="M201.6 491 V499 M204 498 V504" stroke-width="0.8"/>
<path d="M209.2 496 V505 L206 506.6" stroke-width="0.8"/>
<path d="M271.0 478 L273.8 483.6 L279.2 489 Q280.4 490.4 280.0 492 L284.1 509.6" stroke-width="1"/>
<path d="M271.0 478 L265.5 485.6 L268.0 491.2 M273.8 483.6 L269.4 484.8 L265.5 485.6" stroke-width="0.8"/>
<circle cx="276.6" cy="487.8" r="1.2" stroke-width="0.7"/>
<path d="M277.4 491.3 H254.5" stroke-width="1"/>
<path d="M278.6 494 L282.0 509.6" stroke-width="0.7"/>
<path d="M297.2 509.6 Q297.6 498 289.0 495.4 Q285.0 494.4 281.2 494.6" stroke-width="1.1"/>
<path d="M292.6 509.6 Q291.0 506 283.6 505.4" stroke-width="0.7"/>
<path d="M253.6 489 V500.8" stroke-width="2"/>
<path d="M254.5 489.8 H244.0" stroke-width="1.6"/>
<path d="M244.6 489.8 V497.4" stroke-width="3.2"/>
<path d="M246.2 492.6 H234.6" stroke-width="4"/>
<path d="M242.6 483 V491 M235.6 483 V491" stroke-width="2"/>
<path d="M250.4 491 V499 M248.0 498 V504" stroke-width="0.8"/>
<path d="M242.8 496 V505 L246.0 506.6" stroke-width="0.8"/>
<path d="M217.4 493.5 H234.6 M217.4 494.8 H234.6" stroke-width="0.8"/>
<path d="M209.2 496 H242.8 M210 502.2 H242 M209.2 505 H242.8" stroke-width="0.8"/>
<path d="M195.4 509.6 Q210 505.4 225.4 505 Q241 505.4 256.4 509.6" stroke-width="0.9"/>
<circle cx="300.7" cy="508.8" r="0.9" fill="#111" stroke="none"/>
<rect x="132.4" y="510.4" width="187.2" height="18.6" fill="#fff" stroke-width="1.3"/>
<path d="M133 510.6 H319" stroke-width="1.7"/>
<path d="M143.6 511 V528.6 M308.4 511 V528.6" stroke-width="0.8"/>
<path d="M146 511 V528.6 M306.0 511 V528.6" stroke-width="0.8"/>
<path d="M163.6 511 V528.6 M288.4 511 V528.6" stroke-width="0.8"/>
<path d="M153 529 V540 M156 529 V541 M171 529 V541" stroke-width="0.9"/>
<path d="M153.2 531.4 V554" stroke-width="2.2"/>
<path d="M171 534.8 H201 M171 540.4 H200 M172 544.6 H200" stroke-width="0.9"/>
<path d="M201.8 534.6 V547" stroke-width="2.2"/>
<path d="M152.6 540.8 H174" stroke-width="1.8"/>
<circle cx="164" cy="550" r="7.4" fill="#fff" stroke-width="0.9"/><circle cx="164" cy="550" r="5" stroke-width="1.1"/>
<path d="M157 547 L160 543 H168 L171 547 V553 L168 557 H160 L157 553 Z" stroke-width="0.6" stroke="#444"/>
<path d="M153.6 545 L148.6 604 Q148.2 612 149.4 622 L155.6 692" stroke-width="1"/>
<path d="M157 556 L150.6 606 L158.4 692 M159 557.6 L152.8 606 L160.6 692" stroke-width="0.8"/>
<path d="M172.8 556.6 Q150 578 150 612 Q151 644 177.6 666.6" stroke-width="0.9"/>
<path d="M174.4 559.4 Q152.6 580 152.6 612 Q153.6 642 179 663.6" stroke-width="0.9"/>
<path d="M170.6 554.6 Q156 566 151.6 584" stroke-width="0.7"/>
<path d="M172.4 557 C175 575 182.4 592 182.4 608 C182.4 624 174.6 636 174.2 650 Q174.4 655 176 660" stroke-width="0.9"/>
<path d="M169.8 558 C172.4 576 179.6 592 179.6 608 C179.6 624 172.2 636 172.6 652" stroke-width="0.9"/>
<path d="M155 677.6 Q148 677.4 147.4 680 Q147.4 682.6 155.6 682.6 M150 680 H156" stroke-width="1"/>
<path d="M154 684 L155 692 M157.4 686 V692" stroke-width="1.4"/>
<path d="M299.0 529 V540 M296.0 529 V541 M281.0 529 V541" stroke-width="0.9"/>
<path d="M298.8 531.4 V554" stroke-width="2.2"/>
<path d="M281.0 534.8 H251.0 M281.0 540.4 H252.0 M280.0 544.6 H252.0" stroke-width="0.9"/>
<path d="M250.2 534.6 V547" stroke-width="2.2"/>
<path d="M299.4 540.8 H278.0" stroke-width="1.8"/>
<circle cx="288.0" cy="550" r="7.4" fill="#fff" stroke-width="0.9"/><circle cx="288.0" cy="550" r="5" stroke-width="1.1"/>
<path d="M295.0 547 L292.0 543 H284.0 L281.0 547 V553 L284.0 557 H292.0 L295.0 553 Z" stroke-width="0.6" stroke="#444"/>
<path d="M298.4 545 L303.4 604 Q303.8 612 302.6 622 L296.4 692" stroke-width="1"/>
<path d="M295.0 556 L301.4 606 L293.6 692 M293.0 557.6 L299.2 606 L291.4 692" stroke-width="0.8"/>
<path d="M279.2 556.6 Q302.0 578 302.0 612 Q301.0 644 274.4 666.6" stroke-width="0.9"/>
<path d="M277.6 559.4 Q299.4 580 299.4 612 Q298.4 642 273.0 663.6" stroke-width="0.9"/>
<path d="M281.4 554.6 Q296.0 566 300.4 584" stroke-width="0.7"/>
<path d="M279.6 557 C277.0 575 269.6 592 269.6 608 C269.6 624 277.4 636 277.8 650 Q277.6 655 276.0 660" stroke-width="0.9"/>
<path d="M282.2 558 C279.6 576 272.4 592 272.4 608 C272.4 624 279.8 636 279.4 652" stroke-width="0.9"/>
<path d="M297.0 677.6 Q304.0 677.4 304.6 680 Q304.6 682.6 296.4 682.6 M302.0 680 H296.0" stroke-width="1"/>
<path d="M298.0 684 L297.0 692 M294.6 686 V692" stroke-width="1.4"/>
<path d="M174.2 650 Q176 668 192 680 Q208 689.6 226 689.4 Q244 689.6 260 680 Q276 668 277.8 650" stroke-width="1.1"/>
<path d="M177 652.6 H275" stroke="#555" stroke-width="0.8"/>
<path d="M198 684 Q212 688.6 226 688 Q240 688.6 254 684" stroke="#555" stroke-width="0.6"/>
<path d="M175.6 666 V683.6 L200 684.6" stroke-width="0.9"/>
<path d="M160.6 675 H172.6" stroke-width="2.6"/><path d="M173.4 670.6 V679.6" stroke-width="1.6"/>
<circle cx="226.4" cy="559.4" r="26" fill="#fff" stroke-width="1"/>
<circle cx="226.4" cy="559.4" r="24.4" stroke="#333" stroke-width="0.8"/>
<circle cx="226.4" cy="559.4" r="16.9" stroke-width="3.3"/>
<path d="M205 559.4 H246" stroke-dasharray="6 2 2 2" stroke-width="0.9"/><path d="M226.4 540 V582" stroke-dasharray="6 2 2 2" stroke-width="0.9"/>
<path d="M220.8 586.6 L223.2 683.4 H229.4 L231.8 586.6" fill="#fff" stroke-width="1"/>
<path d="M223.6 588 L225.4 681 M229 588 L227.4 681" stroke-width="1.3"/>
<path d="M220.8 586.6 H231.8" stroke-width="0.8"/>
<path d="M158 689.4 H294" stroke-width="0.9"/>
<rect x="145" y="691.6" width="162.4" height="7" fill="#fff" stroke-width="1.1"/>
<rect x="180.4" y="693.4" width="91" height="3.6" fill="#999" stroke-width="0.8"/>
<path d="M154 692 V698.4 M298.0 692 V698.4" stroke-width="0.8"/>
<path d="M157 692 V698.4 M295.0 692 V698.4" stroke-width="0.8"/>
<path d="M171 692 V698.4 M281.0 692 V698.4" stroke-width="0.8"/>
<path d="M174 692 V698.4 M278.0 692 V698.4" stroke-width="0.8"/>
<path d="M226 689.4 V692" stroke-width="0.7"/>
</g>
<g id="bottomview" fill="none" stroke="#111" stroke-width="0.9" stroke-linejoin="round">
<rect x="926" y="687.4" width="99" height="141.2" fill="#fff" stroke="none"/>
<rect x="926" y="809.00" width="99" height="19.60" fill="#7a7a7a" stroke="none"/>
<rect x="926" y="687.40" width="99" height="19.60" fill="#7a7a7a" stroke="none"/>
<rect x="926" y="827.00" width="99" height="1.40" fill="#bbb" stroke="none"/>
<rect x="926" y="687.60" width="99" height="1.40" fill="#bbb" stroke="none"/>
<rect x="926" y="823.80" width="99" height="1.80" fill="#111" stroke="none"/>
<rect x="926" y="690.40" width="99" height="1.80" fill="#111" stroke="none"/>
<rect x="926" y="820.90" width="99" height="1.90" fill="#111" stroke="none"/>
<rect x="926" y="693.20" width="99" height="1.90" fill="#111" stroke="none"/>
<rect x="926" y="817.00" width="99" height="1.90" fill="#111" stroke="none"/>
<rect x="926" y="697.10" width="99" height="1.90" fill="#111" stroke="none"/>
<rect x="926" y="812.10" width="99" height="2.90" fill="#111" stroke="none"/>
<rect x="926" y="701.00" width="99" height="2.90" fill="#111" stroke="none"/>
<rect x="926" y="809.10" width="99" height="2.00" fill="#111" stroke="none"/>
<rect x="926" y="704.90" width="99" height="2.00" fill="#111" stroke="none"/>
<rect x="926" y="811.10" width="99" height="1.00" fill="#999" stroke="none"/>
<rect x="926" y="703.90" width="99" height="1.00" fill="#999" stroke="none"/>
<rect x="926" y="807.70" width="99" height="1.40" fill="#888" stroke="none"/>
<rect x="926" y="706.90" width="99" height="1.40" fill="#888" stroke="none"/>
<rect x="926" y="799.40" width="99" height="8.30" fill="#111" stroke="none"/>
<rect x="926" y="708.30" width="99" height="8.30" fill="#111" stroke="none"/>
<rect x="926" y="797.40" width="99" height="2.00" fill="#888" stroke="none"/>
<rect x="926" y="716.60" width="99" height="2.00" fill="#888" stroke="none"/>
<rect x="926" y="792.50" width="99" height="1.50" fill="#111" stroke="none"/>
<rect x="926" y="722.00" width="99" height="1.50" fill="#111" stroke="none"/>
<rect x="926" y="785.20" width="99" height="1.00" fill="#111" stroke="none"/>
<rect x="926" y="729.80" width="99" height="1.00" fill="#111" stroke="none"/>
<rect x="926" y="786.20" width="99" height="1.50" fill="#bbb" stroke="none"/>
<rect x="926" y="728.30" width="99" height="1.50" fill="#bbb" stroke="none"/>
<rect x="926" y="776.40" width="99" height="3.40" fill="#444" stroke="none"/>
<rect x="926" y="736.20" width="99" height="3.40" fill="#444" stroke="none"/>
<rect x="926" y="772.00" width="99" height="1.50" fill="#111" stroke="none"/>
<rect x="926" y="742.50" width="99" height="1.50" fill="#111" stroke="none"/>
<rect x="926" y="771.00" width="99" height="1.00" fill="#999" stroke="none"/>
<rect x="926" y="744.00" width="99" height="1.00" fill="#999" stroke="none"/>
<rect x="926" y="769.60" width="99" height="1.40" fill="#111" stroke="none"/>
<rect x="926" y="745.00" width="99" height="1.40" fill="#111" stroke="none"/>
<rect x="926" y="765.20" width="99" height="2.00" fill="#111" stroke="none"/>
<rect x="926" y="748.80" width="99" height="2.00" fill="#111" stroke="none"/>
<rect x="926" y="763.20" width="99" height="2.00" fill="#555" stroke="none"/>
<rect x="926" y="750.80" width="99" height="2.00" fill="#555" stroke="none"/>
<rect x="926" y="758.00" width="99" height="1.80" fill="#111" stroke="none"/>
<rect x="926" y="756.20" width="99" height="1.80" fill="#111" stroke="none"/>
<rect x="926" y="781.40" width="99" height="1.00" fill="#999" stroke="none"/>
<rect x="926" y="733.60" width="99" height="1.00" fill="#999" stroke="none"/>
<rect x="926" y="783.40" width="99" height="0.80" fill="#aaa" stroke="none"/>
<rect x="926" y="731.80" width="99" height="0.80" fill="#aaa" stroke="none"/>
<path d="M926 687.4 V828.6" stroke-width="1"/>
<path d="M909 687.4 H926 V716 Q928 728 946 732.4 Q956 734.6 966 734.6 H980.4 V738.6 H960 Q942 738 932 731 L926 727.4 V788.6 L932 785 Q942 778 960 777.4 H980.4 V781.4 H966 Q956 781.4 946 783.6 Q928 788 926 800 V828.6 H909 Z" fill="#fff" stroke-width="1.1"/>
<path d="M926 727.4 V755.6 M926 760.4 V788.6" stroke-width="1.1"/>
<rect x="963" y="739" width="7" height="16.4" fill="#fff" stroke-width="0.9"/><rect x="963" y="760.6" width="7" height="16.4" fill="#fff" stroke-width="0.9"/>
<path d="M973.4 739 V777" stroke="#fff" stroke-width="3"/><path d="M972 739 V777 M974.8 739 V777" stroke="#666" stroke-width="0.7"/>
<path d="M926 757.6 H976" stroke="#444" stroke-width="1.2"/>
<rect x="934" y="760.6" width="2.2" height="2.4" fill="#222" stroke="none"/>
<path d="M913 687 Q914 686.6 918 686.8 H1060 Q1068.6 687.6 1069 696 V820 Q1068.6 828.6 1060 829.2 H918 Q914 829.2 913 829" stroke-width="1.7"/>
<path d="M926 689 H1025 M926 827 H1025" stroke-width="1.2"/>
<rect x="1025" y="688.2" width="42.6" height="139.6" fill="#fff" stroke="none"/>
<path d="M1025 688 V828" stroke-width="0.8"/>
<path d="M1025 688.4 L1058 689.6 Q1066 691 1066.4 699 V817 Q1066 825 1058 826.4 L1025 827.6" stroke-width="0.9"/>
<path d="M1051 689.6 V826.4" stroke="#333" stroke-width="0.8"/>
<path d="M1025 706 L1050 708.6 Q1061 711 1064 724" stroke-width="0.9"/>
<path d="M 1025 810.00 L 1050 807.40 Q 1061 805.00 1064 792.00" stroke-width="0.9"/>
<path d="M1025 709.6 L1049 712 Q1059 714 1062.6 726" stroke-width="0.9"/>
<path d="M 1025 806.40 L 1049 804.00 Q 1059 802.00 1062.6 790.00" stroke-width="0.9"/>
<path d="M1025 713.6 L1046 716" stroke-width="0.9"/>
<path d="M 1025 802.40 L 1046 800.00" stroke-width="0.9"/>
<path d="M1052 710 Q1061.6 713 1064.6 725" stroke-width="1.8"/>
<path d="M 1052 806.00 Q 1061.6 803.00 1064.6 791.00" stroke-width="1.8"/>
<path d="M1025 719.6 L1050 722 Q1063 724.6 1063.6 738 V778 Q1063 791.4 1050 794 L1025 796.4" stroke-width="1.1"/>
<path d="M1058 690 Q1064 694 1066 704" stroke-width="0.7"/>
<path d="M 1058 826.00 Q 1064 822.00 1066 812.00" stroke-width="0.7"/>
<ellipse cx="1037.6" cy="716" rx="2.8" ry="2.2" stroke-width="0.9"/><ellipse cx="1037.6" cy="716" rx="1.4" ry="1.1" fill="#222" stroke="none"/>
<ellipse cx="1037.6" cy="800" rx="2.8" ry="2.2" stroke-width="0.9"/><ellipse cx="1037.6" cy="800" rx="1.4" ry="1.1" fill="#222" stroke="none"/>
<path d="M1060 691.4 L1063.6 695" stroke-width="1.3"/>
<path d="M 1060 824.60 L 1063.6 821.00" stroke-width="1.3"/>
<path d="M934 684 H952" stroke-width="2"/><path d="M942 684 V692 M944 684 V692" stroke-width="0.7"/>
<path d="M900.6 815 Q902 818 901 822 V830 H906 V822" stroke-width="1.1"/><rect x="900" y="826.6" width="6.4" height="3.6" fill="#444" stroke-width="0.8"/>
<path d="M925.6 688 H916 Q909 688.6 904 692 Q901 694 902.4 697 L906 703.6" stroke-width="2.2"/>
<path d="M 925.6 828.00 H 916 Q 909 827.40 904 824.00 Q 901 822.00 902.4 819.00 L 906 812.40" stroke-width="2.2"/>
<path d="M906 703.6 Q907.6 700 909 705" stroke-width="1.2"/>
<path d="M 906 812.40 Q 907.6 816.00 909 811.00" stroke-width="1.2"/>
<path d="M912 691.6 Q906 693 905.4 697.6" stroke-width="0.8"/>
<path d="M 912 824.40 Q 906 823.00 905.4 818.40" stroke-width="0.8"/>
<ellipse cx="918" cy="703" rx="6.2" ry="8.4" fill="#fff" stroke-width="1.1"/><ellipse cx="918" cy="703" rx="3" ry="4.8" stroke-width="1.1"/>
<path d="M918 693.4 V712.6 M910.6 703 H925.4" stroke-width="0.7" stroke-dasharray="3 1.4"/>
<circle cx="906.6" cy="698.2" r="1.4" stroke-width="0.8"/>
<ellipse cx="918" cy="813" rx="6.2" ry="8.4" fill="#fff" stroke-width="1.1"/><ellipse cx="918" cy="813" rx="3" ry="4.8" stroke-width="1.1"/>
<path d="M918 803.4 V822.6 M910.6 813 H925.4" stroke-width="0.7" stroke-dasharray="3 1.4"/>
<circle cx="906.6" cy="817.8" r="1.4" stroke-width="0.8"/>
<path d="M909 713 V803" stroke-width="1.2"/>
<path d="M891.6 705 L908.6 713" stroke-width="1"/>
<path d="M 891.6 811.00 L 908.6 803.00" stroke-width="1"/>
<path d="M879.4 703 V756" stroke-width="1.3" stroke-dasharray="10 1"/>
<path d="M 879.4 813.00 V 760.00" stroke-width="1.3" stroke-dasharray="10 1"/>
<path d="M864 700 V756" stroke-width="0.8"/>
<path d="M 864 816.00 V 760.00" stroke-width="0.8"/>
<path d="M839 703 V734.6 H879 M839 703.6 L879 701.6" stroke-width="1.2"/>
<path d="M 839 813.00 V 781.40 H 879 M 839 812.40 L 879 814.40" stroke-width="1.2"/>
<path d="M829 705 H838 V712 H794" stroke-width="1.5"/>
<path d="M 829 811.00 H 838 V 804.00 H 794" stroke-width="1.5"/>
<path d="M890.6 706 V739 M893.6 708 V722 H909 M893.6 729 H909 M893.6 722 V729 M901.6 729 V756 M896 735 L901.6 739 M890.6 739 H880" stroke-width="0.8"/>
<path d="M 890.6 810.00 V 777.00 M 893.6 808.00 V 794.00 H 909 M 893.6 787.00 H 909 M 893.6 794.00 V 787.00 M 901.6 787.00 V 760.00 M 896 781.00 L 901.6 777.00 M 890.6 777.00 H 880" stroke-width="0.8"/>
<path d="M880 708 H890.6 M880 740 V752 H888 V741 M883 746 H888 M883 748.6 H888" stroke-width="0.8"/>
<path d="M 880 808.00 H 890.6 M 880 776.00 V 764.00 H 888 V 775.00 M 883 770.00 H 888 M 883 767.40 H 888" stroke-width="0.8"/>
<path d="M891 714 Q895 715 894 719 L891 721" stroke-width="0.7"/>
<path d="M 891 802.00 Q 895 801.00 894 797.00 L 891 795.00" stroke-width="0.7"/>
<path d="M802.4 757.6 H909" stroke="#555" stroke-width="2"/>
<path d="M839 714 H807 Q802.4 714 802.4 719 V751.6 Q802.4 756.4 807 756.4 H909" stroke-width="1.3"/>
<path d="M 839 802.00 H 807 Q 802.4 802.00 802.4 797.00 V 764.40 Q 802.4 759.60 807 759.60 H 909" stroke-width="1.3"/>
<path d="M794 713 V757" stroke-width="1"/>
<path d="M 794 803.00 V 759.00" stroke-width="1"/>
<path d="M829 686 L866 682.6 Q880 682.4 888 684.2 Q896 687 900 695 L902.6 701" stroke-width="1"/>
<path d="M 829 830.00 L 866 833.40 Q 880 833.60 888 831.80 Q 896 829.00 900 821.00 L 902.6 815.00" stroke-width="1"/>
<path d="M829 695 L866 690.4 Q880 690 888 692.4 Q896 696 900.6 702" stroke-width="2"/>
<path d="M 829 821.00 L 866 825.60 Q 880 826.00 888 823.60 Q 896 820.00 900.6 814.00" stroke-width="2"/>
<path d="M830 701.4 L866 696.8 Q882 696.6 892 700" stroke-width="2"/>
<path d="M 830 814.60 L 866 819.20 Q 882 819.40 892 816.00" stroke-width="2"/>
<path d="M833 686 V694 M866 682.6 V697 M834 692 L866 687.6 Q880 687 890 690" stroke-width="0.8"/>
<path d="M 833 830.00 V 822.00 M 866 833.40 V 819.00 M 834 824.00 L 866 828.40 Q 880 829.00 890 826.00" stroke-width="0.8"/>
<path d="M751 684.4 Q751.6 683 754 683 H812" stroke-width="1"/>
<path d="M 751 831.60 Q 751.6 833.00 754 833.00 H 812" stroke-width="1"/>
<path d="M752.6 691.4 L797 688 M797 686.6 H804 L811 692 M797 686.6 V694" stroke-width="0.8"/>
<path d="M 752.6 824.60 L 797 828.00 M 797 829.40 H 804 L 811 824.00 M 797 829.40 V 822.00" stroke-width="0.8"/>
<path d="M752 697 L812 694.2" stroke-width="1.6"/>
<path d="M 752 819.00 L 812 821.80" stroke-width="1.6"/>
<path d="M751 684.4 V698 Q751.4 702 755 703 L793 712.6" stroke-width="1.5"/>
<path d="M 751 831.60 V 818.00 Q 751.4 814.00 755 813.00 L 793 803.40" stroke-width="1.5"/>
<path d="M755 699.6 L812 697.4" stroke-width="0.9"/>
<path d="M 755 816.40 L 812 818.60" stroke-width="0.9"/>
<path d="M754.6 684 V697 M757 684 V697" stroke-width="0.7"/>
<path d="M 754.6 832.00 V 819.00 M 757 832.00 V 819.00" stroke-width="0.7"/>
<rect x="793" y="697.6" width="16" height="7.4" fill="#111" stroke="none"/><path d="M796 699.8 H806 M796 702.4 H806" stroke="#888" stroke-width="0.5"/><path d="M801 705 V708.4 M798.6 707 H803.4" stroke-width="1.1"/>
<path d="M766 832.6 Q775 836 784 832.6" stroke-width="0.8"/><path d="M768 831.4 H782" stroke="#555" stroke-width="0.7"/>
<circle cx="820.6" cy="690" r="8.8" fill="#fff" stroke-width="1.5"/>
<ellipse cx="820.6" cy="690" rx="3.5" ry="5.3" stroke-width="1.1"/>
<path d="M820.6 683 V697 M814 690 H827" stroke-width="0.7" stroke-dasharray="3 1.4"/>
<circle cx="820.6" cy="826" r="8.8" fill="#fff" stroke-width="1.5"/>
<ellipse cx="820.6" cy="826" rx="3.5" ry="5.3" stroke-width="1.1"/>
<path d="M820.6 819 V833 M814 826 H827" stroke-width="0.7" stroke-dasharray="3 1.4"/>
<path d="M749 723 V793" stroke-width="0.9"/><path d="M752 703 V813 M754.6 704 V812 M757 704.6 V811.4" stroke-width="0.8"/><path d="M758.8 706 V810" stroke="#555" stroke-width="0.7"/>
<path d="M752 757.6 H758.8" stroke-width="0.7"/>
<path d="M765.6 805 Q764 788 775.4 769 Q787 788 785.6 802" stroke-width="0.9"/>
<rect x="653" y="733.6" width="18" height="48.6" fill="#fff" stroke-width="0.9"/>
<path d="M657.2 734 V782" stroke="#111" stroke-width="1.2"/>
<path d="M658.6 735 V781" stroke="#111" stroke-width="0.8"/>
<path d="M660 734 V782" stroke="#111" stroke-width="1.2"/>
<path d="M661.4 735 V781" stroke="#111" stroke-width="0.8"/>
<path d="M662.8 734 V782" stroke="#111" stroke-width="1.2"/>
<path d="M664.2 735 V781" stroke="#111" stroke-width="0.8"/>
<path d="M665.6 734 V782" stroke="#111" stroke-width="1.2"/>
<path d="M667 735 V781" stroke="#111" stroke-width="0.8"/>
<path d="M668.4 734 V782" stroke="#111" stroke-width="1.2"/>
<path d="M669.8 735 V781" stroke="#111" stroke-width="0.8"/>
<path d="M671 735 H682 M671 780.6 H682" stroke-width="0.9"/>
<path d="M751 685.6 L746 687.6 Q741.4 688 740.6 684 V679.4 A11.9 11.9 0 0 0 716.8 679.4 V683 Q716.6 690 711 693.4 Q704 697.4 697 701 Q668 718 668 758" stroke-width="1.4"/><path d="M 751 830.40 L 746 828.40 Q 741.4 828.00 740.6 832.00 V 836.60 A 11.9 11.9 0 0 1 716.8 836.60 V 833.00 Q 716.6 826.00 711 822.60 Q 704 818.60 697 815.00 Q 668 798.00 668 758.00" stroke-width="1.4"/>
<path d="M722 692.4 H735.4 V679.6 A6.7 6.7 0 0 0 722 679.6 Z" stroke-width="1.5"/><path d="M 722 823.60 H 735.4 V 836.40 A 6.7 6.7 0 0 1 722 836.40 Z" stroke-width="1.5"/>
<path d="M719.4 690 Q718.8 693.4 722 694.6 H735 L751 688.6" stroke-width="0.9"/>
<path d="M 719.4 826.00 Q 718.8 822.60 722 821.40 H 735 L 751 827.40" stroke-width="0.9"/>
<path d="M719 681 V688 M738.4 681 V686" stroke="#444" stroke-width="0.7"/>
<path d="M 719 835.00 V 828.00 M 738.4 835.00 V 830.00" stroke="#444" stroke-width="0.7"/>
<path d="M706.39 808.79 A55.6 55.6 0 0 1 706.39 707.21" stroke="#111" stroke-width="0.9" />
<path d="M748.33 805.84 A51.6 51.6 0 1 1 748.33 710.16" stroke="#111" stroke-width="0.9" />
<path d="M717.58 803.80 A47.2 47.2 0 0 1 717.58 712.20" stroke="#111" stroke-width="1.0" />
<path d="M680.22 736.28 A53.4 53.4 0 0 1 705.59 710.00" stroke="#111" stroke-width="3" stroke-dasharray="0.9 0.5"/>
<path d="M705.59 806.00 A53.4 53.4 0 0 1 680.22 779.72" stroke="#111" stroke-width="3" stroke-dasharray="0.9 0.5"/>
<path d="M686 717.6 L688.6 715.6 L690 717.6 L687.4 719.6 Z" stroke-width="0.8"/>
<path d="M 686 798.40 L 688.6 800.40 L 690 798.40 L 687.4 796.40 Z" stroke-width="0.8"/>
<path d="M748 724 V792" stroke-width="0.9"/>
<path d="M746 716 Q750 716 751.6 719 L749.4 723.6 Q748 721 745 720" stroke-width="0.7"/>
<path d="M 746 800.00 Q 750 800.00 751.6 797.00 L 749.4 792.40 Q 748 795.00 745 796.00" stroke-width="0.7"/>
<path d="M715 709.6 Q735 704 748 716" stroke-width="0.8"/>
<path d="M 715 806.40 Q 735 812.00 748 800.00" stroke-width="0.8"/>
<circle cx="729" cy="758" r="14" stroke-width="0.9"/><circle cx="729" cy="758" r="5" stroke-width="1.4"/>
<path d="M682 755.6 L701.6 755 V760.6 L682 759.6" stroke-width="0.9"/><path d="M673 753.4 H679 L682 757.6 L679 762.6 H673 Z M675 753.4 L679 762.6 M679 753.4 L675 762.6" stroke-width="0.9"/>
<path d="M719.4 807 V798 Q719 790 729 783 Q739 790 738.6 798 V807 Z" fill="#fff" stroke-width="1"/>
<rect x="718" y="808.8" width="21" height="12" rx="3.4" fill="#fff" stroke-width="1"/><rect x="720.6" y="810.8" width="16" height="8" rx="2" stroke-width="0.8"/>
<rect x="724" y="811.8" width="9.6" height="3.2" fill="#222" stroke="none"/><path d="M729 815 V818.6 M727 817 H731" stroke-width="0.9"/>
</g>
</svg>
<div id="title">Pump Dimensions</div>
</body></html>
